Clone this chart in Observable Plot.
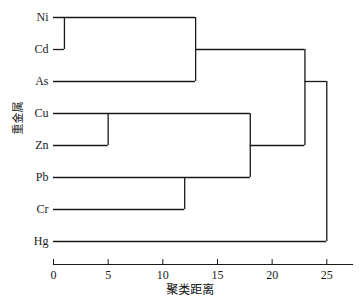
<!DOCTYPE html>
<html>
<head>
<meta charset="utf-8">
<script src="https://cdn.jsdelivr.net/npm/d3@7"></script>
<script src="https://cdn.jsdelivr.net/npm/@observablehq/plot@0.6"></script>
<style>
  html, body { margin: 0; padding: 0; background: #fff; }
</style>
</head>
<body>
<div id="chart"></div>
<script>
// Leaves (heavy metals), top to bottom
const leaves = ["Ni", "Cd", "As", "Cu", "Zn", "Pb", "Cr", "Hg"];
// Distance at which each leaf's horizontal line ends
const leafReach = [13, 1, 13, 18, 5, 18, 12, 25];
// Vertical join lines: distance and the two rows they connect
const joinDist = [1, 13, 5, 18, 12, 23, 25];
const joinFrom = ["Ni", "Ni", "Cu", "Cu", "Pb", "Cd", "As"];
const joinTo   = ["Cd", "As", "Zn", "Pb", "Cr", "Zn", "Hg"];
// Horizontal connector lines between joins
const linkRow  = ["Cd", "Zn", "As"];
const linkFrom = [13, 18, 23];
const linkTo   = [23, 23, 25];
// Axis ticks
const xTicks = [0, 5, 10, 15, 20, 25];
const xLabel = "聚类距离";
const yLabel = "重金属";

const leafData = leaves.map((name, i) => ({name, reach: leafReach[i]}));
const joinData = joinDist.map((d, i) => ({d, from: joinFrom[i], to: joinTo[i]}));
const linkData = linkRow.map((r, i) => ({r, x1: linkFrom[i], x2: linkTo[i]}));

const ink = "#1a1a1a";
const serif = "'Liberation Serif', 'DejaVu Serif', serif";
const cjk = "'Noto Sans CJK SC', sans-serif";

const chart = Plot.plot({
  width: 363,
  height: 302,
  marginLeft: 53,
  marginRight: 11,
  marginTop: 4,
  marginBottom: 38,
  style: {fontFamily: serif, fontSize: "12px", color: ink, background: "#fff"},
  x: {domain: [0, 27.35]},
  y: {type: "point", domain: leaves, range: [13.5, 243.5], padding: 0},
  marks: [
    Plot.frame({anchor: "bottom", stroke: ink, strokeWidth: 1.2}),
    Plot.ruleX([0], {y1: () => leaves[0], stroke: ink, strokeWidth: 1.2}),
    Plot.ruleY(leafData, {y: "name", x1: 0, x2: "reach", stroke: ink, strokeWidth: 1.3}),
    Plot.ruleX(joinData, {x: "d", y1: "from", y2: "to", stroke: ink, strokeWidth: 1.3}),
    Plot.ruleY(linkData, {y: "r", x1: "x1", x2: "x2", stroke: ink, strokeWidth: 1.3}),
    Plot.axisX(xTicks, {tickSize: 5, dy: -5, tickFormat: () => "", stroke: ink, label: null}),
    Plot.axisX(xTicks, {tickSize: 0, tickPadding: 6, label: null, fontSize: 12, fill: ink}),
    Plot.axisY({tickSize: 0, tickPadding: 5, label: null, fontSize: 12, fill: ink}),
    Plot.text([xLabel], {x: (xTicks[0] + xTicks[xTicks.length - 1]) / 2, frameAnchor: "bottom", dy: 29, fontFamily: cjk, fontSize: 12, fill: "#111"}),
    Plot.text([yLabel], {frameAnchor: "left", dx: -35, rotate: -90, fontFamily: cjk, fontSize: 11, fill: "#111"})
  ]
});

document.getElementById("chart").appendChild(chart);
</script>
</body>
</html>
